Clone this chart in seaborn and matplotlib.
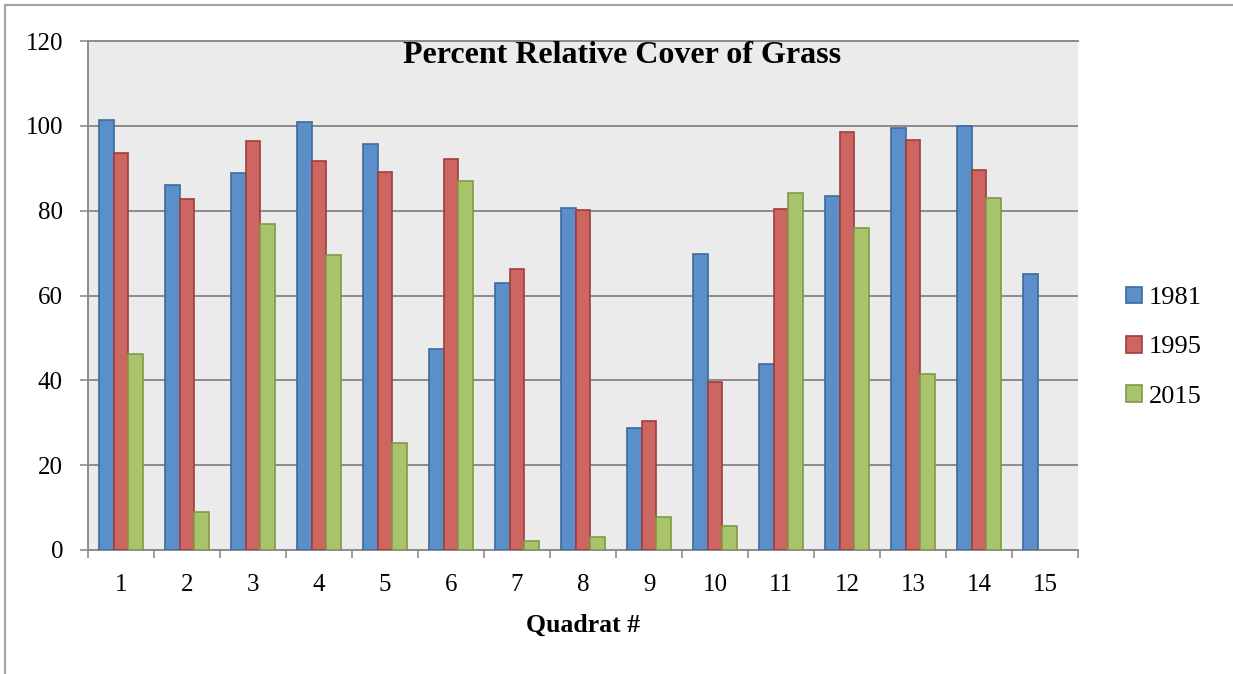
import numpy as np
import pandas as pd
import matplotlib
matplotlib.use("Agg")
import matplotlib.pyplot as plt
import seaborn as sns
from matplotlib.lines import Line2D
from matplotlib.patches import Patch

quadrats = [str(i) for i in range(1, 16)]
years = ["1981", "1995", "2015"]
cover_1981 = [101.4, 86.1, 88.8, 101.0, 95.8, 47.5, 62.9, 80.7, 28.8, 69.9, 43.9, 83.5, 99.4, 100.0, 65.0]
cover_1995 = [93.6, 82.7, 96.5, 91.6, 89.1, 92.2, 66.2, 80.1, 30.4, 39.5, 80.3, 98.5, 96.7, 89.7, np.nan]
cover_2015 = [46.3, 8.9, 76.8, 69.5, 25.2, 87.0, 2.2, 3.1, 7.8, 5.6, 84.2, 76.0, 41.5, 83.1, np.nan]
y_ticks = [0, 20, 40, 60, 80, 100, 120]

fills = ["#5B8FC9", "#CD6561", "#A9C46A"]
edges = ["#3C6A9E", "#9E3E3A", "#7F9A48"]

df = pd.DataFrame({
    "Quadrat": quadrats * 3,
    "Year": sum([[y] * len(quadrats) for y in years], []),
    "Cover": cover_1981 + cover_1995 + cover_2015,
}).dropna()

sns.set_theme(style="white")
plt.rcParams["font.family"] = ["Liberation Serif", "DejaVu Serif"]
plt.rcParams["text.color"] = "black"
plt.rcParams["xtick.labelcolor"] = "black"
plt.rcParams["ytick.labelcolor"] = "black"
plt.rcParams["axes.labelcolor"] = "black"

fig = plt.figure(figsize=(12.33, 6.74), dpi=100)
ax = fig.add_axes([88 / 1233, 124 / 674, 990 / 1233, 509 / 674])
ax.set_facecolor("#EBEBEB")

sns.barplot(data=df, x="Quadrat", y="Cover", hue="Year", order=quadrats,
            hue_order=years, palette=fills, saturation=1, width=0.68,
            errorbar=None, ax=ax, legend=False, zorder=3)
for cont, ec in zip(ax.containers, edges):
    for bar in cont:
        bar.set_edgecolor(ec)
        bar.set_linewidth(1.2)

ax.set_ylim(0, 120)
ax.set_xlim(-0.5, 14.5)
ax.set_yticks(y_ticks)
ax.set_yticklabels([str(t) for t in y_ticks], fontsize=18, color="black")
ax.yaxis.grid(True, color="#8C8C8C", linewidth=1.4, zorder=0)
ax.set_axisbelow(True)
ax.tick_params(axis="y", length=6, width=1.2, color="#8C8C8C", pad=12, left=True)
ax.set_xticks(range(len(quadrats)))
ax.set_xticklabels(quadrats, fontsize=18, color="black")
ax.set_xticks(np.arange(-0.5, 15, 1), minor=True)
ax.tick_params(axis="x", which="major", length=0, pad=17)
ax.tick_params(axis="x", which="minor", length=6, width=1.2, color="#8C8C8C", bottom=True)
ax.spines["right"].set_visible(False)
for side in ["left", "bottom", "top"]:
    ax.spines[side].set_color("#8C8C8C")
    ax.spines[side].set_linewidth(1.4)
ax.set_ylabel("")
ax.set_xlabel("Quadrat #", fontsize=18.5, fontweight="bold", labelpad=13, color="black")

ax.text(0.539, 0.972, "Percent Relative Cover of Grass", transform=ax.transAxes,
        ha="center", va="center", fontsize=23, fontweight="bold", color="black", zorder=5)

handles = [Patch(facecolor=f, edgecolor=e, linewidth=1.2, label=y)
           for f, e, y in zip(fills, edges, years)]
leg = fig.legend(handles=handles, loc="center left", bbox_to_anchor=(0.894, 0.485),
                 frameon=False, fontsize=19, handlelength=0.6, handleheight=0.6,
                 handletextpad=0.25, labelspacing=1.0)
for t in leg.get_texts():
    t.set_color("black")

border = "#A6A6A6"
fig.add_artist(Line2D([5 / 1233, 1.0], [1 - 5 / 674, 1 - 5 / 674], color=border, lw=1.6))
fig.add_artist(Line2D([5 / 1233, 5 / 1233], [0, 1 - 5 / 674], color=border, lw=1.6))

fig.savefig("out.png", dpi=100)
